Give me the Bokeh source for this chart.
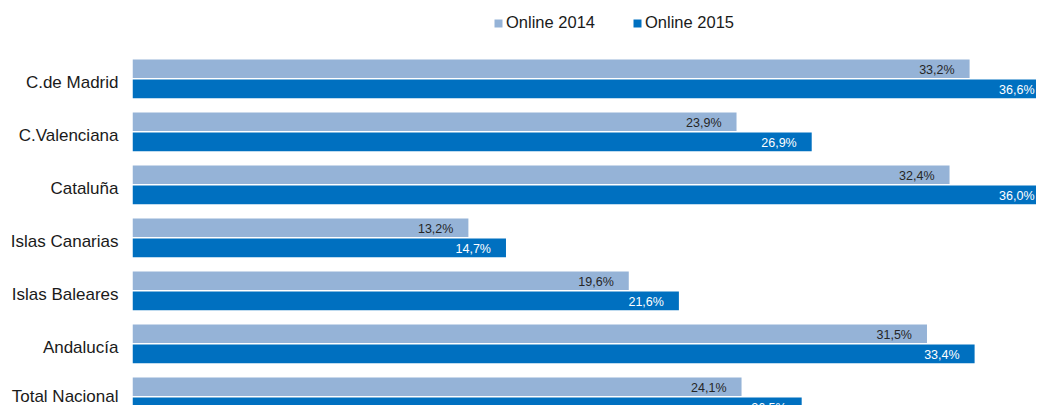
from bokeh.plotting import figure
from bokeh.models import Range1d, FixedTicker, Legend, LegendItem, ColumnDataSource
from bokeh.core.properties import value
from bokeh.embed import file_html
from bokeh.resources import INLINE

regions = ["C.de Madrid", "C.Valenciana", "Cataluña", "Islas Canarias",
           "Islas Baleares", "Andalucía", "Total Nacional"]
online_2014 = [33.2, 23.9, 32.4, 13.2, 19.6, 31.5, 24.1]
online_2015 = [36.6, 26.9, 36.0, 14.7, 21.6, 33.4, 26.5]
series_names = ["Online 2014", "Online 2015"]

C14 = "#95B3D7"
C15 = "#0070C0"
FONT = "Liberation Sans"

n = len(regions)
ypos = [n - 1 - i for i in range(n)]

X_START, X_END = -0.2035, 35.87
Y_START, Y_END = (n - 1) - 6.164, (n - 1) + 1.477
OFF = 0.19
H = 0.35
LABEL_NUDGE = 0.07  # category labels sit slightly below the band centre


def fmt(v):
    return f"{v:.1f}".replace(".", ",") + "%"


def label_x(vals):
    # keep labels of bars running past the plot edge inside the frame
    return [min(v, X_END) for v in vals]


def label_off(vals):
    return [-15 if v <= X_END else -2 for v in vals]


src14 = ColumnDataSource(dict(y=[v + OFF for v in ypos], v=online_2014,
                              lx=label_x(online_2014), lo=label_off(online_2014),
                              lab=[fmt(v) for v in online_2014]))
src15 = ColumnDataSource(dict(y=[v - OFF for v in ypos], v=online_2015,
                              lx=label_x(online_2015), lo=label_off(online_2015),
                              lab=[fmt(v) for v in online_2015]))

p = figure(width=1036, height=405, output_backend="svg", toolbar_location=None,
           x_range=Range1d(X_START, X_END), y_range=Range1d(Y_START, Y_END),
           x_axis_location=None, min_border_left=132, min_border_right=0,
           min_border_top=0, min_border_bottom=0)
p.outline_line_color = None
p.grid.visible = False
p.background_fill_color = "white"
p.border_fill_color = "white"

r14 = p.hbar(y="y", left=X_START, right="v", height=H, source=src14,
             fill_color=C14, line_color=None)
r15 = p.hbar(y="y", left=X_START, right="v", height=H, source=src15,
             fill_color=C15, line_color=None)

p.text(x="lx", y="y", text="lab", source=src14, x_offset="lo", y_offset=1.5,
       text_align="right", text_baseline="middle", text_font=value(FONT),
       text_font_size="12.5px", text_color="#262626")
p.text(x="lx", y="y", text="lab", source=src15, x_offset="lo", y_offset=1.5,
       text_align="right", text_baseline="middle", text_font=value(FONT),
       text_font_size="12.5px", text_color="white")

ticks = [round(y - LABEL_NUDGE, 4) for y in ypos]
ax = p.yaxis[0]
ax.ticker = FixedTicker(ticks=ticks)
ax.major_label_overrides = {t: r for t, r in zip(ticks, regions)}
ax.axis_line_color = None
ax.major_tick_line_color = None
ax.minor_tick_line_color = None
ax.major_tick_out = 0
ax.major_tick_in = 0
ax.major_label_standoff = 14
ax.major_label_text_font = FONT
ax.major_label_text_font_size = "17px"
ax.major_label_text_color = "#1a1a1a"

legend = Legend(items=[LegendItem(label=series_names[0], renderers=[r14]),
                       LegendItem(label=series_names[1], renderers=[r15])],
                orientation="horizontal", location=(361, 373),
                padding=0, margin=0, spacing=37, label_standoff=3,
                glyph_width=10, glyph_height=10,
                label_text_font=FONT, label_text_font_size="16.5px",
                label_text_color="#1a1a1a", border_line_color=None,
                background_fill_alpha=0)
p.add_layout(legend)

open("out.html", "w").write(file_html(p, INLINE))
